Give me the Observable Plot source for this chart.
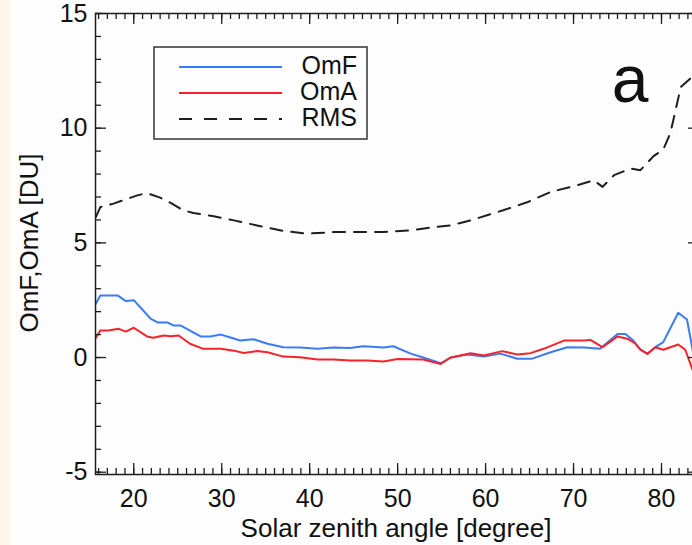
<!DOCTYPE html>
<html>
<head>
<meta charset="utf-8">
<script src="https://cdn.jsdelivr.net/npm/d3@7"></script>
<script src="https://cdn.jsdelivr.net/npm/@observablehq/plot@0.6"></script>
<style>
  html, body { margin: 0; padding: 0; width: 692px; height: 545px; overflow: hidden; background: #fcfdfc; }
  #strip { position: absolute; left: 0; top: 0; width: 10px; height: 545px; background: #fdf5ea; }
  #chart { position: absolute; left: 0; top: 0; }
</style>
</head>
<body>
<div id="strip"></div>
<div id="chart"></div>
<script>
// Observation minus forecast / analysis and RMS versus solar zenith angle
const omfAngle = [15.7, 16.2, 18.2, 19.1, 20, 21.9, 22.7, 23.8, 24.5, 25.3, 27.6, 28.7, 29.9, 31, 32.1, 33.6, 35.2, 37, 38.9, 40.9, 42.7, 44.6, 46.1, 48.4, 49.5, 51.5, 52.9, 54.9, 56, 57.9, 59.8, 61.7, 63.6, 65.3, 67.4, 69.3, 71.2, 73, 75, 75.9, 76.8, 77.6, 78.4, 79.3, 80.2, 81.9, 82.9, 83.6];
const omfValue = [2.36, 2.7, 2.7, 2.46, 2.5, 1.7, 1.53, 1.53, 1.4, 1.4, 0.92, 0.92, 1.0, 0.87, 0.74, 0.8, 0.6, 0.45, 0.44, 0.38, 0.44, 0.42, 0.49, 0.44, 0.49, 0.17, 0.0, -0.25, 0, 0.13, 0.04, 0.17, -0.05, -0.05, 0.23, 0.45, 0.44, 0.38, 1.03, 1.03, 0.74, 0.34, 0.16, 0.45, 0.67, 1.95, 1.66, 0.2];

const omaAngle = [15.7, 16.2, 17.1, 18.3, 19.1, 20, 21.5, 22.2, 23.4, 24.2, 25.1, 26.4, 27.9, 29.9, 31.4, 32.5, 34, 35.2, 37, 38.9, 40.9, 42.7, 44.6, 46.5, 48.4, 50, 52.9, 54.9, 56, 58.3, 59.8, 61.9, 63.6, 65.1, 66.6, 68.9, 71.2, 71.9, 73.3, 75, 76.1, 77, 77.6, 78.4, 79.3, 80.2, 81.9, 82.7, 83.6];
const omaValue = [0.86, 1.18, 1.18, 1.25, 1.13, 1.3, 0.92, 0.86, 0.96, 0.93, 0.96, 0.6, 0.38, 0.38, 0.3, 0.2, 0.28, 0.23, 0.04, 0.01, -0.09, -0.09, -0.13, -0.13, -0.17, -0.06, -0.09, -0.28, -0.01, 0.19, 0.09, 0.28, 0.13, 0.19, 0.38, 0.74, 0.74, 0.77, 0.45, 0.92, 0.82, 0.62, 0.34, 0.16, 0.45, 0.34, 0.57, 0.34, -0.6];

const rmsAngle = [15.7, 16.2, 17.7, 18.8, 20.4, 21.5, 23, 24.2, 25.6, 26.8, 29.1, 31.4, 34, 37, 39.7, 42.7, 44.6, 48.4, 51.5, 53.4, 56, 58.3, 62, 64.8, 67.4, 70.4, 72.3, 73.3, 74.6, 76.5, 77.6, 79.1, 80.2, 81, 81.6, 82.2, 83.3, 84.3];
const rmsValue = [6.13, 6.56, 6.71, 6.86, 7.07, 7.17, 6.97, 6.74, 6.42, 6.3, 6.16, 5.98, 5.76, 5.52, 5.4, 5.47, 5.47, 5.47, 5.55, 5.65, 5.76, 5.98, 6.42, 6.78, 7.22, 7.51, 7.73, 7.44, 7.95, 8.24, 8.17, 8.78, 9.07, 9.77, 10.79, 11.8, 12.17, 12.2];

const seriesNames = ["OmF", "OmA", "RMS"];
const xMajorTicks = [20, 30, 40, 50, 60, 70, 80];
const xMinorTicks = d3.range(16, 85, 1);
const yMajorTicks = [-5, 0, 5, 10, 15];
const yMinorTicks = d3.range(-5, 16, 1);

const blue = "#3b7bf6", red = "#f6232b", ink = "#1e1e1e";
const font = "'Liberation Sans', Arial, sans-serif";

const W = 700, H = 545;
const M = {left: 95, right: 1, top: 13, bottom: 71};
const innerW = W - M.left - M.right;
const innerH = H - M.top - M.bottom;

const pts = (xs, ys) => xs.map((x, i) => ({x, y: ys[i]}));
const omf = pts(omfAngle, omfValue);
const oma = pts(omaAngle, omaValue);
const rms = pts(rmsAngle, rmsValue);

const tickStyle = {stroke: ink, strokeWidth: 1.3};

const chart = Plot.plot({
  width: W,
  height: H,
  marginLeft: M.left,
  marginRight: M.right,
  marginTop: M.top,
  marginBottom: M.bottom,
  style: {background: "transparent", maxWidth: "none", fontFamily: font, color: "#111", overflow: "visible"},
  x: {domain: [15.65, 84.32]},
  y: {domain: [-5.1, 15]},
  marks: [
    Plot.line(rms, {x: "x", y: "y", stroke: ink, strokeWidth: 2, strokeDasharray: "12,9"}),
    Plot.line(omf, {x: "x", y: "y", stroke: blue, strokeWidth: 2}),
    Plot.line(oma, {x: "x", y: "y", stroke: red, strokeWidth: 2}),
    Plot.frame({stroke: ink, strokeWidth: 1.5}),
    // inward ticks on all four sides
    Plot.tickX(xMinorTicks, {x: d => d, insetTop: innerH - 6, ...tickStyle}),
    Plot.tickX(xMajorTicks, {x: d => d, insetTop: innerH - 11, ...tickStyle}),
    Plot.tickX(xMinorTicks, {x: d => d, insetBottom: innerH - 6, ...tickStyle}),
    Plot.tickX(xMajorTicks, {x: d => d, insetBottom: innerH - 11, ...tickStyle}),
    Plot.tickY(yMinorTicks, {y: d => d, insetRight: innerW - 6, ...tickStyle}),
    Plot.tickY(yMajorTicks, {y: d => d, insetRight: innerW - 11, ...tickStyle}),
    Plot.tickY(yMinorTicks, {y: d => d, insetLeft: innerW - 6, ...tickStyle}),
    Plot.tickY(yMajorTicks, {y: d => d, insetLeft: innerW - 11, ...tickStyle}),
    Plot.axisX({ticks: xMajorTicks, tickSize: 0, tickPadding: 15, fontSize: 25, label: null, tickFormat: d => String(d)}),
    Plot.axisY({ticks: yMajorTicks, tickSize: 0, tickPadding: 8, fontSize: 25, label: null, tickFormat: d => String(d)})
  ]
});

document.getElementById("chart").append(chart);

const svg = d3.select(chart);

// axis titles
svg.append("text")
  .attr("x", 396).attr("y", 537)
  .attr("text-anchor", "middle")
  .attr("font-family", font).attr("font-size", 26).attr("fill", "#111")
  .text("Solar zenith angle [degree]");

svg.append("text")
  .attr("transform", "translate(38,243) rotate(-90)")
  .attr("text-anchor", "middle")
  .attr("font-family", font).attr("font-size", 26).attr("fill", "#111")
  .text("OmF,OmA [DU]");

// panel letter
svg.append("text")
  .attr("x", 630).attr("y", 102)
  .attr("text-anchor", "middle")
  .attr("font-family", font).attr("font-size", 66).attr("fill", "#111")
  .text("a");

// legend
const legend = svg.append("g");
legend.append("rect")
  .attr("x", 154).attr("y", 47).attr("width", 213).attr("height", 92)
  .attr("fill", "none").attr("stroke", "#333").attr("stroke-width", 1.5);
const legendStyles = [
  {stroke: blue, dash: null},
  {stroke: red, dash: null},
  {stroke: ink, dash: "13,12"}
];
seriesNames.forEach((name, i) => {
  const y = 67 + i * 26;
  legend.append("line")
    .attr("x1", 179).attr("x2", 282).attr("y1", y).attr("y2", y)
    .attr("stroke", legendStyles[i].stroke).attr("stroke-width", 2)
    .attr("stroke-dasharray", legendStyles[i].dash);
  legend.append("text")
    .attr("x", 357).attr("y", y + 7)
    .attr("text-anchor", "end")
    .attr("font-family", font).attr("font-size", 25).attr("fill", "#111")
    .text(name);
});
</script>
</body>
</html>
